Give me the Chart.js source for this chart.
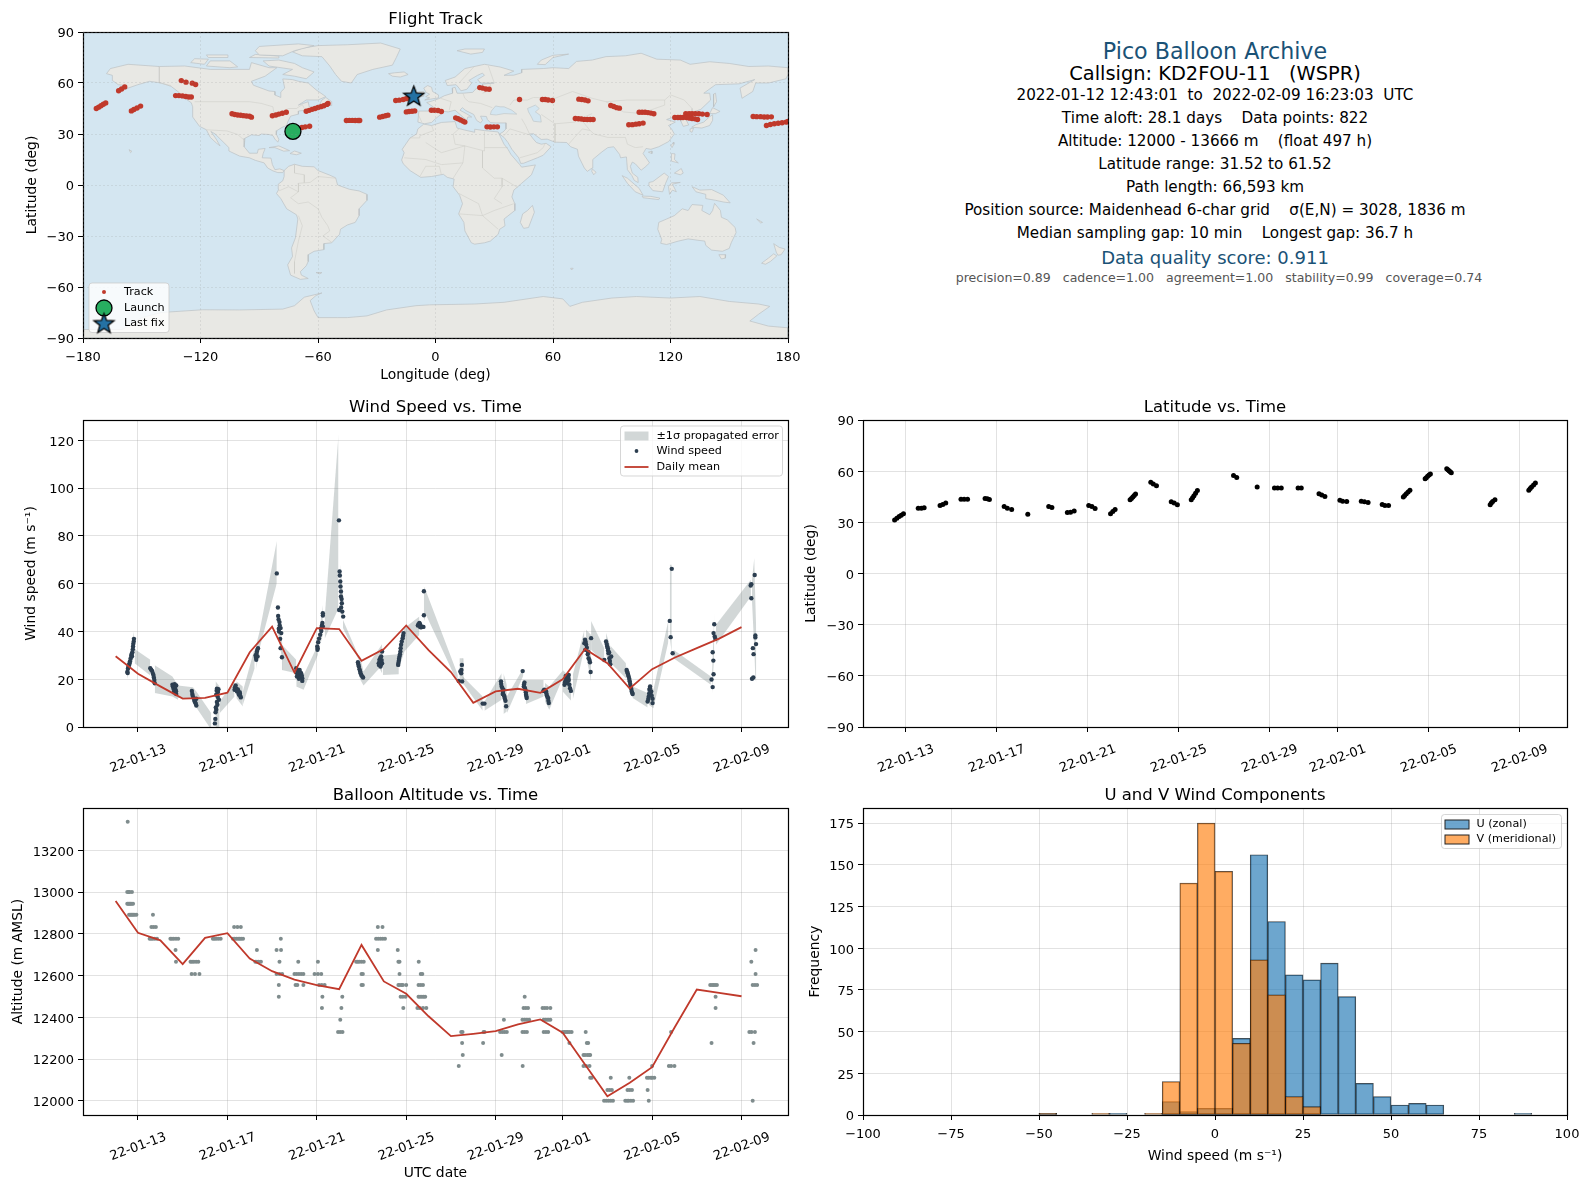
<!DOCTYPE html>
<html>
<head>
<meta charset="utf-8">
<title>Pico Balloon Archive</title>
<script src="https://cdn.jsdelivr.net/npm/chart.js@4"></script>
<style>
  html, body { margin: 0; padding: 0; background: #fff; }
  body { position: relative; width: 1590px; height: 1189px; overflow: hidden; font-family: "DejaVu Sans", sans-serif; }
  canvas { position: absolute; }
  .info { position: absolute; left: 815px; width: 800px; text-align: center; white-space: pre; line-height: 1; transform: translateY(-50%); }
</style>
</head>
<body>
<canvas id="mapChart"></canvas>
<canvas id="windChart"></canvas>
<canvas id="latChart"></canvas>
<canvas id="altChart"></canvas>
<canvas id="histChart"></canvas>
<script>
// Time axes run in "day of January 2022", so 22-02-01 is day 32
const timeTickDays = [13, 17, 21, 25, 29, 32, 36, 40];
const timeTickLabels = ['22-01-13', '22-01-17', '22-01-21', '22-01-25', '22-01-29', '22-02-01', '22-02-05', '22-02-09'];

// Daily means
const meanDays = [12, 13, 14, 15, 16, 17, 18, 19, 20, 21, 22, 23, 24, 25, 26, 27, 28, 29, 30, 31, 32, 33, 34, 35, 36, 37, 38, 39, 40];
const meanWind = [29.6, 22.3, 17, 11.9, 12.2, 14.4, 31.3, 42, 22.8, 41.4, 41, 27.7, 32.6, 42.5, 32.2, 23, 10.1, 14.9, 16, 14.3, 20, 32.7, 26.7, 16.1, 24.2, 29, 33, 37, 41.8];
const meanAlt = [12957, 12805, 12769, 12655, 12781, 12803, 12682, 12621, 12581, 12554, 12535, 12747, 12572, 12513, 12405, 12310, 12321, 12334, 12366, 12390, 12326, 12174, 12022, 12086, 12161, 12350, 12533, 12517, 12501];

// Wind speed samples, one inner list per flight-day cluster
const windDay = [
  [12.52, 12.55, 12.60, 12.64, 12.70, 12.75, 12.78, 12.81, 12.82, 12.54, 12.62, 12.73, 12.57, 12.67, 12.72, 12.77, 12.79],
  [13.55, 13.63, 13.69, 13.73, 13.75, 13.59, 13.66, 13.71],
  [14.54, 14.64, 14.71, 14.59, 14.68, 14.61, 14.71, 14.56, 14.66, 14.62, 14.70],
  [15.41, 15.43, 15.49, 15.61, 15.56, 15.61, 15.45, 15.52, 15.58],
  [16.53, 16.58, 16.50, 16.62, 16.55, 16.50, 16.47, 16.46, 16.44, 16.56, 16.52, 16.60, 16.57, 16.53, 16.48],
  [17.37, 17.32, 17.43, 17.55, 17.52, 17.60, 17.40, 17.34, 17.47, 17.50, 17.58, 17.45, 17.56],
  [18.37, 18.32, 18.26, 18.35, 18.29, 18.34, 18.30, 18.28],
  [19.21, 19.26, 19.27, 19.33, 19.38, 19.30, 19.41, 19.36, 19.38, 19.44, 19.29, 19.34, 19.31],
  [20.08, 20.15, 20.23, 20.30, 20.35, 20.11, 20.23, 20.35, 20.12, 20.18, 20.26, 20.20, 20.28, 20.33],
  [21.03, 21.02, 21.06, 21.15, 21.20, 21.27, 21.27, 21.27, 21.23, 21.04, 21.10, 21.18, 21.25],
  [21.99, 22.02, 22.03, 22.05, 22.06, 22.08, 22.08, 22.11, 22.12, 22.09, 22.00, 22.14, 22.18],
  [22.84, 22.88, 22.94, 22.99, 23.07, 22.86, 22.91, 22.96, 23.03],
  [23.92, 23.88, 23.80, 23.77, 23.88, 23.92, 23.85, 23.84, 23.90, 23.82, 23.78],
  [24.88, 24.84, 24.77, 24.74, 24.70, 24.67, 24.64, 24.86, 24.80, 24.75, 24.72, 24.68, 24.65],
  [25.59, 25.52, 25.67, 25.77, 25.79, 25.79, 25.55, 25.62, 25.70, 25.63],
  [27.35, 27.50, 27.46, 27.47, 27.49, 27.42],
  [28.42, 28.50],
  [29.24, 29.27, 29.35, 29.32, 29.39, 29.44, 29.47, 30.21, 29.25, 29.30, 29.33, 29.37, 29.41],
  [30.29, 30.26, 30.33, 30.36, 30.39, 30.27, 30.31, 30.35, 30.38],
  [31.18, 31.26, 31.29, 31.35, 31.38, 31.14, 31.16, 31.22, 31.27, 31.32, 31.36],
  [32.12, 32.18, 32.27, 32.22, 32.30, 32.37, 32.08, 32.27, 32.15, 32.20, 32.25, 32.10, 32.33, 32.14],
  [33.00, 33.05, 33.01, 33.27, 33.16, 33.22, 33.25, 33.12, 32.97, 33.03, 33.08, 33.14, 33.20],
  [33.94, 33.99, 34.05, 34.09, 34.17, 33.86, 34.13, 34.02, 33.97, 34.03, 34.08, 34.11],
  [34.86, 34.91, 34.95, 35.00, 35.04, 35.09, 35.13, 34.88, 34.93, 34.98, 35.02, 35.07, 35.11],
  [35.91, 35.88, 35.96, 35.85, 35.80, 36.02, 36.02, 35.90, 35.93, 35.87, 35.83, 35.98],
  [36.88, 36.79, 36.83, 36.92],
  [38.78, 38.75, 38.80, 38.83, 38.71, 38.74, 38.75, 38.66, 38.71],
  [40.44, 40.41, 40.44, 40.59, 40.62, 40.62, 40.65, 40.51, 40.54, 40.53, 40.47]
];
const windSpeed = [
  [23.0, 24.4, 26.0, 27.4, 29.9, 31.3, 33.7, 35.8, 36.9, 22.6, 26.6, 29.6, 25.2, 28.7, 30.6, 32.5, 34.8],
  [24.6, 23.5, 21.8, 19.7, 18.3, 24.0, 22.6, 20.7],
  [17.7, 17.9, 17.4, 16.0, 15.6, 14.5, 13.8, 16.9, 16.8, 15.1, 15.0],
  [15.1, 13.8, 12.1, 11.8, 10.4, 9.0, 13.0, 11.0, 9.8],
  [16.0, 14.6, 13.5, 11.4, 9.3, 7.2, 6.2, 3.4, 1.5, 15.4, 15.2, 15.8, 12.6, 10.5, 8.2],
  [17.4, 15.6, 14.9, 14.6, 13.5, 12.4, 16.0, 16.6, 15.7, 13.9, 13.0, 15.2, 14.0],
  [33.0, 31.6, 29.9, 29.5, 28.1, 32.3, 30.7, 29.0],
  [64.3, 50.0, 46.5, 43.9, 41.4, 41.1, 39.3, 36.9, 33.0, 29.2, 45.0, 42.5, 40.0],
  [24.6, 23.2, 21.1, 22.5, 19.3, 21.1, 23.9, 20.4, 22.4, 22.0, 22.8, 20.2, 20.9, 21.5],
  [32.3, 33.7, 35.5, 38.6, 40.2, 42.1, 46.7, 47.6, 42.5, 33.0, 37.0, 41.2, 43.5],
  [86.5, 65.1, 63.4, 60.9, 58.8, 56.7, 54.6, 53.6, 51.8, 50.0, 49.0, 48.3, 46.2],
  [27.1, 25.3, 23.2, 21.8, 20.7, 26.2, 24.2, 22.5, 21.2],
  [31.6, 29.5, 28.1, 26.7, 26.3, 26.7, 25.3, 28.9, 28.0, 27.2, 25.9],
  [39.3, 37.2, 34.4, 31.6, 29.5, 27.7, 26.0, 38.2, 35.8, 33.0, 30.5, 28.6, 26.8],
  [43.5, 42.5, 41.7, 41.9, 46.8, 56.8, 43.0, 43.0, 42.0, 41.8],
  [19.3, 19.1, 22.5, 23.9, 26.0, 23.2],
  [9.8, 9.8],
  [19.1, 17.0, 15.6, 13.8, 12.8, 11.0, 8.7, 23.4, 18.0, 16.3, 14.7, 13.3, 11.9],
  [18.6, 17.0, 15.6, 13.5, 12.1, 17.8, 16.3, 14.5, 12.8],
  [15.6, 14.9, 13.2, 12.1, 10.0, 15.1, 15.3, 15.2, 14.0, 12.6, 11.0],
  [19.1, 21.1, 21.8, 19.1, 17.7, 15.1, 17.7, 19.7, 20.2, 18.4, 20.6, 18.6, 16.2, 21.4],
  [36.5, 34.4, 32.3, 37.2, 28.8, 27.1, 23.0, 30.5, 35.1, 35.6, 33.2, 31.4, 28.0],
  [35.8, 33.7, 30.9, 28.8, 29.5, 28.1, 26.3, 33.0, 34.7, 32.0, 31.2, 27.6],
  [23.9, 22.5, 21.1, 19.1, 17.0, 14.9, 13.8, 23.2, 21.8, 20.1, 18.0, 15.9, 14.3],
  [17.0, 15.6, 14.9, 12.8, 10.7, 11.8, 10.0, 16.2, 14.2, 14.0, 11.7, 13.1],
  [66.2, 44.4, 37.6, 30.9],
  [43.0, 39.3, 37.9, 36.9, 31.3, 27.8, 22.1, 19.9, 16.7],
  [59.8, 59.2, 53.9, 63.6, 38.3, 37.5, 34.7, 33.0, 30.5, 20.7, 20.2]
];

// +/- 1 sigma band; null marks a break between data runs
const bandDay = [12.52, 12.82, null, 12.85, 13.55, null, 13.75, 14.54, 14.79, null, 14.79, 15.46, 15.61, 16.28, null, 16.47, 16.65, null, 16.65, 17.32, null, 17.40, 17.69, null, 17.69, 18.22, null, 18.29, 18.44, 19.21, null, 19.27, 19.45, null, 19.44, 20.08, null, 20.08, 20.41, 21.05, null, 21.15, 21.27, null, 21.35, 21.97, null, 22.05, 22.17, null, 22.17, 22.91, null, 22.91, 23.09, 23.80, 23.92, null, 23.95, 24.67, null, 24.67, 24.92, 25.59, null, 25.79, 25.89, 27.31, null, 27.38, 27.56, null, 27.53, 28.42, null, 28.50, 29.27, null, 29.35, 29.50, null, 29.50, 30.24, null, 30.36, 31.15, null, 31.21, 31.40, 32.00, null, 32.00, 32.38, null, 32.45, 32.97, null, 33.04, 33.27, null, 33.27, 33.86, null, 33.94, 34.16, null, 34.16, 34.83, null, 34.86, 35.13, null, 35.13, 35.80, null, 35.85, 36.06, 36.73, null, 36.79, 36.88, null, 36.96, 38.63, null, 38.68, 38.78, null, 38.86, 40.42, null, 40.47, 40.57, 40.62, 40.66];
const bandUpper = [25.3, 40.0, null, 32.6, 28.1, null, 25.8, 21.1, 17.4, null, 17.4, 16.6, 14.9, 5.8, null, 19.1, 17.0, null, 10.7, 19.1, null, 19.1, 17.0, null, 14.9, 33.0, null, 34.4, 40.0, 77.9, null, 48.3, 35.8, null, 34.4, 28.1, null, 26.0, 21.8, 34.4, null, 42.8, 51.1, null, 45.6, 122.3, null, 67.9, 55.3, null, 44.9, 28.8, null, 30.5, 23.2, 33.0, 34.7, null, 29.9, 30.5, null, 33.0, 41.4, 46.2, null, 58.8, 56.7, 21.8, null, 28.8, 28.8, null, 21.1, 12.8, null, 10.7, 22.5, null, 22.5, 17.7, null, 12.8, 24.6, null, 19.7, 19.7, null, 18.4, 17.0, 23.5, null, 23.9, 20.4, null, 21.8, 40.7, null, 40.7, 38.6, null, 44.4, 33.0, null, 39.3, 33.0, null, 33.7, 26.7, null, 26.0, 17.7, null, 17.0, 14.2, null, 17.7, 15.6, 44.8, null, 67.9, 67.9, null, 32.3, 21.1, null, 21.8, 47.6, null, 42.8, 61.6, null, 61.6, 70.6, 52.5, 40.0];
const bandLower = [20.2, 29.5, null, 26.7, 21.6, null, 14.2, 12.8, 11.4, null, 12.1, 12.1, 8.2, -1.2, null, -0.5, 0.2, null, 5.8, 12.8, null, 12.1, 8.6, null, 9.3, 24.6, null, 24.4, 33.0, 60.2, null, 38.6, 28.1, null, 23.9, 22.5, null, 17.0, 15.6, 30.2, null, 34.4, 38.6, null, 36.9, 49.7, null, 48.3, 45.3, null, 41.4, 27.4, null, 20.4, 17.4, 24.6, 22.5, null, 21.8, 22.1, null, 24.6, 31.6, 38.6, null, 44.2, 46.9, 18.4, null, 18.4, 17.9, null, 18.4, 6.8, null, 6.8, 11.4, null, 5.4, 6.5, null, 5.8, 21.6, null, 9.6, 12.8, null, 10.7, 7.2, 20.4, null, 14.9, 11.0, null, 11.4, 33.0, null, 30.2, 19.1, null, 32.3, 26.7, null, 30.2, 24.6, null, 26.7, 20.4, null, 20.4, 12.1, null, 12.1, 8.2, null, 9.3, 7.9, 35.8, null, 37.6, 30.9, null, 28.8, 17.7, null, 14.2, 30.2, null, 34.4, 54.6, null, 52.5, 33.0, 20.4, 18.5];

// Latitude samples
const latDay = [12.51, 12.61, 12.71, 12.80, 12.90, 13.55, 13.69, 13.81, 14.51, 14.63, 14.76, 15.43, 15.57, 15.72, 16.49, 16.59, 16.68, 17.33, 17.47, 17.66, 18.37, 19.29, 19.43, 20.11, 20.25, 20.41, 21.05, 21.19, 21.33, 22.01, 22.11, 22.21, 22.87, 22.93, 22.99, 23.05, 23.11, 23.78, 23.89, 24.03, 24.68, 24.81, 24.95, 25.56, 25.62, 25.68, 25.75, 25.83, 27.42, 27.56, 28.46, 29.22, 29.36, 29.52, 30.26, 30.40, 31.18, 31.30, 31.44, 32.10, 32.22, 32.40, 33.04, 33.18, 33.34, 33.96, 34.08, 34.24, 34.89, 34.95, 35.02, 35.10, 35.18, 35.85, 35.90, 35.96, 36.02, 36.08, 36.80, 36.85, 36.90, 36.95, 37.00, 38.71, 38.76, 38.82, 38.92, 40.41, 40.47, 40.53, 40.62, 40.70];
const latValue = [31.4, 32.4, 33.4, 34.2, 35.0, 38.3, 38.3, 38.5, 39.9, 40.5, 41.3, 43.6, 43.6, 43.6, 44.0, 43.8, 43.4, 39.3, 38.3, 37.5, 34.8, 39.3, 38.7, 35.7, 35.9, 36.7, 39.9, 39.3, 38.1, 35.0, 36.3, 37.5, 43.2, 44.0, 44.8, 45.7, 46.6, 53.5, 52.5, 51.5, 42.1, 41.3, 40.3, 43.2, 44.4, 45.6, 47.1, 48.6, 57.4, 56.3, 50.7, 50.1, 50.1, 50.1, 50.1, 50.1, 46.8, 46.0, 45.2, 43.0, 42.4, 42.2, 42.4, 42.1, 41.7, 40.5, 39.9, 39.9, 44.8, 45.8, 46.8, 47.8, 48.8, 55.5, 56.2, 57.0, 57.7, 58.4, 61.4, 60.8, 60.2, 59.6, 59.0, 40.3, 41.3, 42.2, 43.2, 48.8, 49.8, 50.7, 51.9, 53.1];

// Altitude samples: reported altitudes are quantised, so days are listed per level
const altLevels = [13337, 13001, 12944, 12891, 12833, 12776, 12723, 12666, 12608, 12555, 12498, 12445, 12388, 12330, 12277, 12220, 12167, 12110, 12052, 12000];
const altDays = [
  [12.54],
  [12.52, 12.58, 12.63, 12.73],
  [12.52, 12.56, 12.60, 12.64, 12.68, 12.73, 12.78],
  [12.60, 12.65, 12.70, 12.75, 12.80, 12.86, 12.93, 13.67],
  [13.60, 13.70, 13.80, 17.30, 17.45, 17.60, 23.73, 23.94],
  [13.52, 13.59, 13.66, 13.75, 13.85, 14.45, 14.52, 14.60, 14.70, 14.80, 16.35, 16.42, 16.50, 16.60, 16.70, 17.25, 17.32, 17.40, 17.48, 17.55, 17.62, 17.70, 19.39, 23.65, 23.75, 23.85, 23.95, 24.05],
  [14.68, 18.32, 19.20, 19.40, 23.73, 24.62, 40.63],
  [14.70, 15.35, 15.42, 15.50, 15.60, 15.70, 18.25, 18.32, 18.40, 18.50, 19.33, 20.17, 21.05, 22.76, 22.83, 22.90, 23.00, 23.10, 24.65, 24.70, 25.56, 40.44],
  [15.40, 15.55, 15.75, 19.20, 19.33, 19.45, 20.00, 20.10, 20.20, 20.30, 20.40, 20.90, 21.05, 21.20, 23.00, 23.06, 24.70, 25.65, 25.72, 40.63],
  [19.30, 20.05, 20.13, 20.40, 21.10, 21.22, 21.35, 23.00, 23.06, 24.65, 24.72, 24.80, 24.85, 25.00, 25.55, 25.65, 25.75, 38.60, 38.68, 38.75, 38.82, 38.90, 40.50, 40.60, 40.70],
  [19.30, 21.25, 22.14, 24.75, 24.85, 24.97, 25.55, 25.62, 25.70, 25.78, 25.85, 30.30, 38.84],
  [21.23, 22.10, 24.87, 25.50, 25.60, 25.75, 25.90, 30.25, 30.35, 30.45, 31.10, 31.20, 31.30, 31.45, 38.84],
  [22.05, 29.37, 30.20, 30.30, 30.40, 30.50, 31.15, 31.22, 31.30, 31.38, 31.45],
  [21.95, 22.05, 22.15, 27.46, 27.52, 28.46, 28.50, 29.20, 29.30, 29.40, 29.50, 30.20, 30.30, 30.40, 31.15, 31.25, 31.35, 32.00, 32.08, 32.15, 32.22, 32.30, 32.40, 33.03, 36.85, 40.35, 40.45, 40.60],
  [27.50, 28.44, 32.30, 33.08, 33.14, 38.66, 40.54],
  [27.53, 29.27, 32.93, 33.00, 33.10, 33.18, 33.23],
  [27.35, 30.21, 32.93, 33.05, 33.20, 36.00, 36.75, 36.85, 37.00],
  [33.23, 33.30, 34.15, 34.98, 35.77, 35.85, 35.95, 36.00, 36.10],
  [34.00, 34.10, 34.20, 34.90, 35.00, 35.10, 35.80],
  [33.85, 33.95, 34.05, 34.15, 34.25, 34.80, 34.88, 34.95, 35.05, 35.15, 35.85, 40.50]
];

// Histogram of wind components, 5 m/s bins
const binCenters = [-47.5, -42.5, -37.5, -32.5, -27.5, -22.5, -17.5, -12.5, -7.5, -2.5, 2.5, 7.5, 12.5, 17.5, 22.5, 27.5, 32.5, 37.5, 42.5, 47.5, 52.5, 57.5, 62.5, 67.5, 72.5, 77.5, 82.5, 87.5];
const uCounts = [1, 0, 0, 0, 1, 0, 0, 8, 2, 4, 4, 46, 156, 116, 84, 81, 91, 71, 19, 11, 6, 7, 6, 0, 0, 0, 0, 1];
const vCounts = [1, 0, 0, 1, 0, 0, 1, 20, 139, 175, 146, 43, 93, 72, 11, 5, 0, 0, 0, 0, 0, 0, 0, 0, 0, 0, 0, 0];

// Flight track on the map, read from the red dashes
const trackLon = [-173.2, -172, -170.8, -169.6, -168.4, -161.8, -160.3, -158.7, -155.3, -154, -152.4, -150.6, -129.8, -127.4, -124.2, -122.5, -132.7, -131, -129.2, -127.5, -126, -124.7, -103.9, -102.5, -101, -99.5, -98, -96.5, -95, -94, -83.3, -81.5, -80, -78.2, -76.2, -68.2, -66.5, -64.3, -66, -64.5, -63, -61.5, -60, -58.5, -57, -55.5, -54.9, -45.5, -44, -42.5, -41, -39.5, -38.7, -28.5, -27, -25.5, -24.3, -20.3, -18.5, -16.5, -15, -13, -11.5, -14.9, -13.5, -12, -10.6, -2.1, -0.5, 1.3, 3, 10.3, 11.5, 12.8, 14, 15, 26.3, 28, 29.8, 31.6, 22.6, 24, 25.7, 27.4, 42.9, 54.6, 56, 57.5, 59.7, 73.2, 74.7, 76.3, 77.9, 89.5, 91, 92.5, 93.9, 104, 105.5, 107, 108.5, 110, 111.5, 98.7, 100.5, 102.3, 104, 106, 71.4, 73, 74.5, 76, 77.5, 79, 80.5, 122.2, 123.8, 125, 126.4, 127.8, 129.5, 131, 132.7, 134.5, 136.3, 138.7, 128.1, 129.5, 131, 132.5, 133.8, 162.2, 164, 166, 167.8, 169.5, 171.5, 169, 171, 173, 175, 177, 179, 180];
const trackLat = [45, 45.8, 46.6, 47.5, 48.3, 55.4, 56.5, 57.7, 43.6, 44.4, 45.3, 46.4, 61.4, 60.5, 59.9, 59.1, 52.6, 52.6, 52.4, 52.1, 51.8, 51.8, 41.9, 41.5, 41.2, 41, 40.8, 40.6, 40.4, 39.9, 40.7, 41.2, 41.7, 42.2, 42.8, 33.8, 34.2, 34.6, 43.4, 43.9, 44.5, 45, 45.6, 46.1, 46.6, 47.4, 47.9, 37.9, 38, 38, 37.9, 37.9, 37.9, 39.9, 40.3, 40.7, 41.1, 49.7, 49.9, 50.3, 50.8, 51.7, 52.2, 43, 43.2, 43.4, 43.6, 44, 44, 43.8, 43.2, 39.5, 39, 38.3, 37.6, 37, 34.2, 34.1, 34.2, 34.2, 57.3, 57, 56.5, 56.3, 50.3, 50.3, 50.3, 50, 49.7, 50.5, 50.3, 50, 49.5, 46.8, 46.2, 45.5, 45.2, 42.8, 42.8, 42.8, 42.6, 42.3, 41.9, 35.4, 35.5, 35.8, 36, 36.4, 39.1, 39, 38.8, 38.6, 38.5, 38.5, 38.5, 39.7, 39.7, 39.7, 39.7, 41.9, 42, 42, 42, 41.9, 41.7, 41.5, 39.7, 39.4, 39.1, 38.9, 38.5, 40.3, 40.2, 40.2, 40, 40, 40.1, 35, 35.6, 36, 36.3, 36.6, 37, 37.4];
const launchPos = [-72.8, 31.52];
const lastFixPos = [-11.1, 52.6];

// Coarse coastlines as [lon, lat] rings
const northAmerica = [[-168,65.5],[-166,68.5],[-157,71],[-141,69.7],[-128,70],[-115,68],[-108,68],[-95,68],[-94,72],[-85,69],[-81,69],[-87,64],[-94,61],[-93,58.7],[-85,55.3],[-82,55],[-82,52.9],[-79,51.5],[-79,54.7],[-77,57],[-78,62.4],[-73,62],[-70,61],[-65,60],[-61,56],[-56,52],[-60,50],[-66,50],[-70,47],[-65,49],[-64.5,46],[-61,45.8],[-66,44],[-70,43.5],[-70,41.7],[-74,40.5],[-75.5,37],[-76,35],[-78.5,33.8],[-81,32],[-81.3,30],[-80,26.8],[-80.5,25.2],[-82,27],[-83,29],[-85,29.7],[-89,30],[-90,29.1],[-94,29.5],[-97.3,27.5],[-97.7,22.5],[-95,18.7],[-91,18.7],[-90.5,21],[-87,21.5],[-88,18.5],[-88.5,16],[-84,15.8],[-83.3,12],[-82,9],[-79.5,9.5],[-77.3,8.5],[-78,7.3],[-80.5,7.3],[-83,8.3],[-85.7,10],[-87.5,13],[-92,14.5],[-95,16],[-100,17],[-105.5,20],[-105.5,22],[-109,26],[-112.5,30],[-114.7,31.5],[-112,27],[-110,23],[-112,24.8],[-115,28],[-117,32.5],[-120.5,34.5],[-124,40],[-124,46],[-124.7,48.4],[-128,51],[-131,54.5],[-135,58],[-140,60],[-146,61],[-152,59],[-157,57],[-163,54.8],[-158,58.5],[-162,59],[-165,61.5],[-165,64.5],[-168,65.5]];
const arcticIslands = [
  [[-80,73.5],[-72,71.5],[-68,69],[-62,66.5],[-66,62.5],[-72,64],[-78,65],[-73,68],[-85,70],[-88,73],[-80,73.5]],
  [[-90,76.5],[-78,76],[-72,79],[-62,82],[-70,83],[-90,81.5],[-92,79],[-90,76.5]],
  [[-125,72],[-118,71],[-116,74],[-123,74.3],[-125,72]],
  [[-117,70],[-105,69],[-101,69.5],[-105,73],[-115,73],[-117,70]],
  [[-95,75],[-80,74.7],[-80,75.8],[-92,76.8],[-95,75]],
  [[-116,75],[-106,75],[-106,76.5],[-117,76.5],[-116,75]],
  [[11,79],[18,77],[24,78],[25,80],[15,80],[11,79]],
  [[52,71],[56,70.8],[60,75],[68,77],[60,76.3],[54,73.5],[52,71]]
];
const greenland = [[-73,78.3],[-68,76],[-58,75.5],[-54,70],[-51,65],[-48,61],[-43,60],[-40,65],[-32,68],[-22,70.5],[-20,75],[-18,80],[-28,83.5],[-45,82.5],[-60,82],[-68,80.5],[-73,78.3]];
const southAmerica = [[-77.3,8.5],[-75,11],[-72,12.2],[-68,11],[-62,10.7],[-60,8.5],[-54,5.8],[-51,4.2],[-50,0],[-44,-2.5],[-39,-3.5],[-35,-5.5],[-35,-9],[-39,-14],[-39,-18],[-41,-22],[-45,-23.5],[-48.5,-26],[-49,-29],[-53,-34],[-57,-34.5],[-57,-38],[-62,-39],[-65,-41],[-65,-45],[-66,-47.5],[-69,-51],[-68.5,-53],[-65,-55],[-69,-55.5],[-74,-53],[-75.5,-47],[-73,-42],[-73.5,-37],[-71.5,-31],[-70.3,-20],[-71,-17.5],[-76,-14],[-79,-8],[-81.2,-5],[-80,-2.5],[-80.3,0.5],[-78,2.5],[-77.3,5],[-77.3,8.5]];
const africa = [[-6,35.8],[-2,35],[3,36.8],[10,37.3],[11,33.5],[15,32.3],[20,31],[20,32.8],[25,32],[32,31.2],[32.5,29.9],[35,24],[37,21],[38.5,18],[43,12],[44,10.5],[51,11.8],[49,6],[44,1],[40,-3],[39,-7],[40.5,-11],[40.5,-15],[35,-20],[35.5,-24],[32.8,-26],[32,-29],[28,-33],[25,-34],[20,-34.8],[18.3,-34],[15,-27],[14.5,-22],[11.8,-17],[13.8,-11],[12.3,-6],[9,-1],[9.5,3.5],[6,4.5],[4,6.3],[-2,5],[-7.5,4.5],[-13,8.5],[-16.5,12.5],[-17.3,14.7],[-16,19],[-17,21],[-13,27.7],[-9.7,30],[-9,33],[-6,35.8]];
const eurasia = [[-9,37],[-5.6,36],[-2,36.8],[0,39],[3,41.8],[3.5,43.4],[6.5,43],[10,44],[12.5,41.5],[16,38],[16.5,40],[18.5,40],[16,41.8],[12.5,44],[13.7,45.5],[15.5,43.8],[19.5,41.5],[21,38],[23,36.5],[24,38],[23,40.5],[26,40.3],[26.5,38.5],[28,36.7],[31,36.5],[36,36.5],[36,33],[34.5,31.2],[32.6,30],[35,28],[37,25],[39,21],[42.5,16],[43.5,12.7],[45,12.8],[52,16],[55,17.5],[59,22.5],[56.5,24.5],[54,24],[51.5,25],[50,27],[48,30],[50,30.2],[54,26.8],[57,27],[61,25.2],[67,25],[69,22.5],[72.5,21],[73,17],[76,10],[77.5,8],[80,10],[80.3,15],[85,19.5],[88,22],[91,22.5],[94,18],[94.5,16],[97.5,16.5],[98,9],[100.3,5.5],[101.5,2.7],[103.5,1.4],[103.3,4.5],[100.5,7],[99.5,11],[100.5,13.5],[102,12.5],[105,8.7],[107,10.5],[109.3,13],[106,18.5],[107.5,21.5],[110,21],[114,22.5],[119,25.5],[122,30],[120.5,33],[119,35],[122.5,37],[118,38.5],[121.5,40],[125,39.7],[125.3,37.5],[126.5,34.5],[129.3,35.3],[127.5,39.5],[130.5,42.5],[135.5,44.5],[140.5,50],[140,54],[137,54],[143,59],[155,59.5],[163,62],[155.5,57],[156.5,51],[162,55],[163.5,60],[170,60],[179,62.5],[180,65],[180,69],[170,70],[160,69.7],[150,71.5],[140,72.5],[130,71],[125,73.5],[113,74],[105,77.5],[97,76],[87,75.5],[80,73.5],[72,72.7],[68,68.5],[60,69],[55,68.5],[44,68],[44,66],[40,64.6],[35,64.5],[40,67],[33,69.4],[25,71],[15,68.5],[10,63.5],[5,61.5],[6,58.5],[10.5,59],[12,57],[13,55.4],[16,56.3],[18.5,60],[17,61.5],[21.5,64.5],[24,65.8],[25,64.5],[21.5,62],[23,60],[30,60],[24,59.3],[24,57.3],[21,57],[19,54.5],[14,54],[11,54],[10,57.5],[8.5,57],[8.7,54],[4.5,52.5],[1.7,50.8],[-1.5,49.5],[-4.5,48.5],[-1.2,46],[-1.7,43.5],[-8.5,43.5],[-9,37]];
const australia = [[114,-22],[113.5,-26],[115.5,-32],[115,-34.3],[118,-35],[124,-33],[129,-31.7],[134,-32.5],[137.5,-33],[138,-35.5],[141,-38.3],[146.5,-39],[150,-37.3],[151,-34],[153.5,-28],[153,-25],[149,-20.5],[146,-19],[145.5,-15],[142.5,-10.8],[141.5,-15],[140,-17.5],[136,-15],[136.5,-12],[131,-11.5],[129,-15],[126,-14],[122,-18],[118,-20],[114,-22]];
const antarctica = [[-180,-85],[-160,-85],[-150,-78],[-140,-75],[-119,-73.4],[-100,-73.5],[-78,-73],[-72,-71],[-67,-66],[-58,-63.5],[-61,-65],[-64,-68],[-62,-74],[-60,-78],[-50,-78],[-45,-78],[-35,-77],[-25,-73.5],[-10,-71],[-3,-70.5],[20,-70],[35,-69],[55,-65.6],[65,-67],[68.6,-71.4],[75,-69],[90,-66.5],[102.6,-65.6],[120,-66.5],[135,-65.6],[150,-68.5],[165,-70],[170.7,-71.4],[165,-76],[160.5,-80],[170,-83],[180,-84],[180,-90],[-180,-90],[-180,-85]];
const smallLands = [
  [[-59,47.7],[-53,46.7],[-53,49],[-56,51.5],[-58,50],[-59,47.7]],
  [[-24,65.5],[-22,64],[-18,63.5],[-14,65],[-16,66.5],[-21,66],[-24,65.5]],
  [[-85,22],[-80,23],[-74.5,20.2],[-77.5,19.9],[-82,22],[-85,22]],
  [[-74.3,18.5],[-72,20],[-68.5,18.7],[-71,17.8],[-74.3,18.5]],
  [[-156.5,20.8],[-155,19.8],[-155.7,19],[-156.5,20.8]],
  [[-61,-51.5],[-58,-51.5],[-59,-52.3],[-61,-51.5]],
  [[49.5,-12],[50.5,-16],[47.5,-25],[45,-25.5],[43.3,-22],[44.5,-17],[47,-15],[49.5,-12]],
  [[-5.5,50],[1.5,51.2],[1.5,53],[-1.5,55],[-2,57.5],[-4,58.5],[-6,57],[-4.8,54.5],[-3,53.4],[-5,52],[-3,51.3],[-5.5,50]],
  [[-10,52],[-6,52.2],[-6,55],[-8.5,55],[-10,54],[-10,52]],
  [[130.8,34],[136,33.5],[140,35],[141.5,38],[141.5,41.3],[139.8,40],[137,37],[133,35.5],[130.8,34]],
  [[140,42],[141.5,45.5],[145.3,43.3],[143,42],[140,42]],
  [[130,33],[131.8,33.5],[131,31],[130,31.5],[130,33]],
  [[142,46],[143.5,49],[143,54],[142,53.5],[142,49],[142,46]],
  [[120.2,23],[121.5,25.2],[121.7,24],[120.8,22],[120.2,23]],
  [[108.7,19.3],[110.5,20],[110.5,18.5],[108.7,19.3]],
  [[80,9.5],[82,7.5],[80.8,6],[79.8,8],[80,9.5]],
  [[95.3,5.5],[98,4],[104,-2],[106,-6],[102,-4],[98,1],[95.3,5.5]],
  [[105.5,-6.5],[110,-6.7],[114.5,-7.7],[114,-8.6],[106,-7.5],[105.5,-6.5]],
  [[109,1.5],[111,2],[116.8,7],[119,5],[117.5,1],[116,-4],[111,-3.3],[109,-0.5],[109,1.5]],
  [[119.5,-5.5],[119,-1],[120.5,1.3],[125,1.5],[121,0.5],[123,-4],[121,-3],[119.5,-5.5]],
  [[131,-1],[135,-3],[141,-2.7],[147,-6],[150.5,-10.5],[147,-10],[143,-9],[138,-8],[138,-5.5],[133,-4],[131,-1]],
  [[120.5,18.5],[122.3,18.3],[122,15],[124,13],[120.5,14],[120.5,18.5]],
  [[122,7],[125.5,9.7],[126.5,7],[125,6],[122,7]],
  [[144.7,-41],[148.2,-41],[148,-43],[146,-43.5],[144.7,-41]],
  [[172.7,-34.5],[175.5,-36.7],[178.5,-37.7],[176.5,-41],[174.8,-41.3],[174,-39.5],[172.7,-34.5]],
  [[172.7,-40.5],[174.3,-41.7],[171,-45],[168.5,-46.6],[166.5,-46],[170,-43],[172.7,-40.5]],
  [[164,-20],[167,-22],[166,-22.3],[164,-20]],
  [[69,-49],[70.3,-49],[69.5,-50],[69,-49]]
];
const innerSeas = [
  [[28,41.5],[31,41.2],[35,42],[41.5,41.7],[39,44],[37,45],[35,46],[33,46],[30.7,46.5],[28.5,43.5],[28,41.5]],
  [[47,45],[51,47],[53,45],[51,43],[53.5,41],[54,37],[50,37.5],[49,40],[47.5,43],[47,45]]
];
const borders = [
  [[-123,49],[-95,49],[-89,48],[-83,46],[-82.5,42],[-79,43],[-75,45],[-71,45],[-68,47.3],[-67,45]],
  [[-141,69.7],[-141,60],[-135,58.5]],
  [[-117,32.5],[-106.5,31.8],[-101,29.7],[-97.3,26]],
  [[-51,4],[-60,5],[-64,1.5],[-70,1],[-70,-4],[-74,-7.5],[-70,-11],[-65,-10],[-60,-14],[-58,-19],[-55,-24],[-54,-27],[-57.5,-30],[-53,-33.7]],
  [[-70,-18],[-68,-24],[-70,-33],[-72,-45],[-72,-52]],
  [[-80,-3.5],[-75,-1],[-70,-4]],
  [[-72,12],[-72,7],[-67,6],[-67,1.5]],
  [[-13,27.7],[-8,27.7],[-8,29],[-1,32],[-2,35]],
  [[12,33],[9,30],[10,24],[15,23],[25,20],[25,31.5]],
  [[25,22],[37,22]],
  [[-5,25],[3,19],[15,23]],
  [[15,23],[14,13],[9,4]],
  [[24,20],[24,10],[30,4],[34,4],[42,-1.5]],
  [[12,-5],[22,-11],[24,-18],[32,-26]],
  [[12,-17],[24,-18],[30,-15],[40,-11]],
  [[-16,16],[-5,15],[3,12],[14,13]],
  [[-8,5],[-5,11],[2,11],[3,6]],
  [[34,4],[34,-1],[30,-8],[34,-11]],
  [[-1.7,43.4],[3,42.5]],
  [[2.5,51],[8,49],[7,44]],
  [[-9,42],[-7,37]],
  [[14,54],[15,51],[17,49],[23,48],[29,45.5]],
  [[24,54],[28,56],[28,60]],
  [[30,60],[27,70]],
  [[20,70],[12,60]],
  [[38,47],[40,50],[47,50],[50,51.5],[61,51],[70,55],[80,51],[87,49],[98,50],[107,50],[117,50],[120,53],[127,50],[131,45],[131,42.8]],
  [[87,49],[96,43],[105,42],[112,45],[117,47],[117,50]],
  [[80,42],[74,39],[79,32],[81,30],[88,28],[97,28],[98,24],[102,22],[106,22.5]],
  [[54,41.5],[61,36],[71,37],[74,39]],
  [[44,39],[46,35],[48,30]],
  [[61,36],[61,25]],
  [[68,24],[71,28],[75,33],[79,32]],
  [[35,29],[38,33],[48,29.5]],
  [[43,16],[52,19],[55,22],[56,24.5]]
];

const lonTicks = [-180, -120, -60, 0, 60, 120, 180];
const latTicks = [-90, -60, -30, 0, 30, 60, 90];
const windTicks = [0, 20, 40, 60, 80, 100, 120];
const altTicks = [12000, 12200, 12400, 12600, 12800, 13000, 13200];
const histXTicks = [-100, -75, -50, -25, 0, 25, 50, 75, 100];
const histYTicks = [0, 25, 50, 75, 100, 125, 150, 175];

const infoLines = [
  ['Pico Balloon Archive', 51, 22.2, '#1a5276', 0],
  ['Callsign: KD2FOU-11   (WSPR)', 74.3, 19.4, '#000', 0],
  ['2022-01-12 12:43:01  to  2022-02-09 16:23:03  UTC', 96.3, 15.2, '#000', 0],
  ['Time aloft: 28.1 days    Data points: 822', 119.3, 15.2, '#000', 0],
  ['Altitude: 12000 - 13666 m    (float 497 h)', 142.3, 15.2, '#000', 0],
  ['Latitude range: 31.52 to 61.52', 165.3, 15.2, '#000', 0],
  ['Path length: 66,593 km', 188.3, 15.2, '#000', 0],
  ['Position source: Maidenhead 6-char grid    σ(E,N) = 3028, 1836 m', 211.3, 15.2, '#000', 0],
  ['Median sampling gap: 10 min    Longest gap: 36.7 h', 234.3, 15.2, '#000', 0],
  ['Data quality score: 0.911', 257.7, 18, '#1a5276', 0],
  ['precision=0.89   cadence=1.00   agreement=1.00   stability=0.99   coverage=0.74', 278, 12.55, '#555', 4]
];

const FONT = '"DejaVu Sans"';
const TICK_PX = 13;
const LABEL_PX = 13.9;
const GRID = 'rgba(150,150,150,0.28)';
const RED = '#c0392b';
const NAVY = '#2c3e50';
const SLATE = '#7f8c8d';

Chart.defaults.font.family = FONT;
Chart.defaults.color = '#000';
Chart.defaults.animation = false;

const xy = (xs, ys) => xs.map((x, i) => ({ x, y: ys[i] }));
const ring = pts => pts.map(p => ({ x: p[0], y: p[1] }));
const minusSign = v => String(v).replace('-', '\u2212');

infoLines.forEach(([text, y, size, color, dx]) => {
  const d = document.createElement('div');
  d.className = 'info';
  d.textContent = text;
  d.style.top = y + 'px';
  d.style.marginLeft = dx + 'px';
  d.style.fontSize = size + 'px';
  d.style.color = color;
  document.body.appendChild(d);
});

// 5 point star sprite, the built in 'star' point style is only an asterisk
function starSprite(r, fill) {
  const c = document.createElement('canvas');
  c.width = c.height = Math.ceil(r * 2 + 4);
  const g = c.getContext('2d');
  g.translate(c.width / 2, c.height / 2 + 1);
  g.beginPath();
  for (let i = 0; i < 10; i++) {
    const rad = i % 2 ? r * 0.42 : r;
    const a = -Math.PI / 2 + i * Math.PI / 5;
    g.lineTo(rad * Math.cos(a), rad * Math.sin(a));
  }
  g.closePath();
  g.fillStyle = fill;
  g.fill();
  g.lineWidth = 1.3;
  g.strokeStyle = '#000';
  g.stroke();
  return c;
}
const star = starSprite(10.5, '#2471a3');

// Closed box around the plot, the scales only give left and bottom
const framePlugin = {
  id: 'frame',
  afterDatasetsDraw(chart) {
    const { ctx, chartArea: a } = chart;
    ctx.save();
    ctx.strokeStyle = '#000';
    ctx.lineWidth = 1.2;
    ctx.strokeRect(a.left + 0.5, a.top + 0.5, a.right - a.left, a.bottom - a.top);
    ctx.restore();
  }
};

// Legend with a matplotlib look: translucent rounded box over the data
function legendPlugin(cfg) {
  return {
    id: 'boxLegend',
    afterDraw(chart) {
      const { ctx, chartArea: a } = chart;
      const x0 = cfg.fromRight != null ? a.right - cfg.fromRight - cfg.w : a.left + cfg.fromLeft;
      const y0 = cfg.fromBottom != null ? a.bottom - cfg.fromBottom - cfg.h : a.top + cfg.fromTop;
      ctx.save();
      ctx.beginPath();
      ctx.roundRect(x0, y0, cfg.w, cfg.h, 3);
      ctx.fillStyle = 'rgba(255,255,255,0.8)';
      ctx.fill();
      ctx.strokeStyle = 'rgba(204,204,204,0.8)';
      ctx.lineWidth = 1;
      ctx.stroke();
      ctx.font = '11.2px ' + FONT;
      ctx.textBaseline = 'middle';
      cfg.items.forEach((it, i) => {
        const cy = y0 + cfg.rows[i];
        const mx = x0 + cfg.markX;
        if (it.kind === 'patch') {
          ctx.fillStyle = it.fill;
          ctx.fillRect(mx - 12, cy - 4.5, 24, 9);
          if (it.edge) {
            ctx.strokeStyle = it.edge;
            ctx.lineWidth = 1;
            ctx.strokeRect(mx - 12, cy - 4.5, 24, 9);
          }
        } else if (it.kind === 'line') {
          ctx.strokeStyle = it.fill;
          ctx.lineWidth = 1.8;
          ctx.beginPath();
          ctx.moveTo(mx - 12, cy);
          ctx.lineTo(mx + 12, cy);
          ctx.stroke();
        } else if (it.kind === 'star') {
          ctx.drawImage(star, mx - star.width / 2, cy - star.height / 2);
        } else {
          ctx.beginPath();
          ctx.arc(mx, cy, it.r, 0, Math.PI * 2);
          ctx.fillStyle = it.fill;
          ctx.fill();
          if (it.edge) {
            ctx.strokeStyle = it.edge;
            ctx.lineWidth = 1.3;
            ctx.stroke();
          }
        }
        ctx.fillStyle = '#000';
        ctx.fillText(it.label, x0 + cfg.textX, cy);
      });
      ctx.restore();
    }
  };
}

const oceanPlugin = {
  id: 'ocean',
  beforeDatasetsDraw(chart) {
    const { ctx, chartArea: a } = chart;
    ctx.save();
    ctx.fillStyle = '#d4e6f1';
    ctx.fillRect(a.left, a.top, a.right - a.left, a.bottom - a.top);
    ctx.restore();
  }
};

function axis(opts) {
  const ticks = opts.ticks;
  const scale = {
    type: 'linear',
    min: opts.min,
    max: opts.max,
    offset: false,
    afterBuildTicks: ax => { ax.ticks = ticks.map(value => ({ value })); },
    afterFit: ax => {
      if (ax.axis === 'x') ax.height = opts.box; else ax.width = opts.box;
    },
    title: { display: !!opts.title, text: opts.title, font: { size: LABEL_PX, lineHeight: 1.2 }, padding: 0 },
    border: { display: false, dash: opts.dash || [] },
    grid: { color: opts.gridColor || GRID, lineWidth: 1, tickLength: 5, tickColor: '#000', tickWidth: 1, offset: false, z: opts.gridZ || 0 },
    ticks: {
      autoSkip: false,
      font: { size: TICK_PX },
      padding: opts.pad == null ? 4 : opts.pad,
      maxRotation: opts.rotate || 0,
      minRotation: opts.rotate || 0,
      labelOffset: opts.labelOffset || 0,
      callback: opts.format || minusSign
    }
  };
  return scale;
}

// y axis labels sit a touch below the tick in the original
const yAxis = opts => axis({ labelOffset: 2, ...opts });
const timeLabel = v => timeTickLabels[timeTickDays.indexOf(v)];

function panel(id, rect, yBox, xBox, title, type, datasets, scales, plugins) {
  const canvas = document.getElementById(id);
  const w = yBox + (rect.r - rect.l) + 24;
  const h = 30 + (rect.b - rect.t) + xBox + 2;
  canvas.width = w;
  canvas.height = h;
  canvas.style.width = w + 'px';
  canvas.style.height = h + 'px';
  canvas.style.left = (rect.l - yBox) + 'px';
  canvas.style.top = (rect.t - 30) + 'px';
  return new Chart(canvas, {
    type,
    data: { datasets },
    options: {
      responsive: false,
      devicePixelRatio: 1,
      animation: false,
      layout: { padding: { right: 24, bottom: 2 } },
      plugins: {
        legend: { display: false },
        tooltip: { enabled: false },
        title: {
          display: true,
          text: title,
          fullSize: false,
          font: { size: 16.5, weight: 'normal', lineHeight: 1.2 },
          padding: { top: 7.5, bottom: 2.7 }
        }
      },
      scales
    },
    plugins: [framePlugin, ...plugins]
  });
}

function timeAxis(min, max, box, title) {
  return axis({ min, max, ticks: timeTickDays, box, title, rotate: 20, labelOffset: 28, pad: 9.5, format: timeLabel });
}

// Flight track panel
const landRings = [northAmerica, ...arcticIslands, greenland, southAmerica, africa, eurasia, australia, antarctica, ...smallLands];
const borderPoints = borders.flatMap(b => [...ring(b), { x: null, y: null }]);
const mapDatasets = [
  { label: 'Last fix', data: [{ x: lastFixPos[0], y: lastFixPos[1] }], pointStyle: star, pointRadius: 10 },
  { label: 'Launch', data: [{ x: launchPos[0], y: launchPos[1] }], pointRadius: 8, pointBackgroundColor: '#27ae60', pointBorderColor: '#000', pointBorderWidth: 1.3 },
  { label: 'Track', data: xy(trackLon, trackLat), pointRadius: 2.7, pointBackgroundColor: RED, pointBorderWidth: 0 },
  { label: 'Borders', data: borderPoints, showLine: true, pointRadius: 0, borderColor: 'rgba(205,205,200,0.9)', borderWidth: 0.6 },
  ...innerSeas.map(s => ({ label: 'Sea', data: ring(s), showLine: true, fill: 'shape', pointRadius: 0, backgroundColor: '#d4e6f1', borderColor: '#bcc2c4', borderWidth: 0.6 })),
  ...landRings.map(r => ({ label: 'Land', data: ring(r), showLine: true, fill: 'shape', pointRadius: 0, backgroundColor: '#e8e8e4', borderColor: '#bcc2c4', borderWidth: 0.7 }))
];
const mapGrid = 'rgba(150,150,150,0.2)';
panel('mapChart', { l: 83, t: 32, r: 788, b: 338 }, 59, 46, 'Flight Track', 'scatter', mapDatasets, {
  x: axis({ min: -180, max: 180, ticks: lonTicks, box: 46, title: 'Longitude (deg)', dash: [2, 2], gridZ: 1, gridColor: mapGrid, pad: 7 }),
  y: yAxis({ min: -90, max: 90, ticks: latTicks, box: 59, title: 'Latitude (deg)', dash: [2, 2], gridZ: 1, gridColor: mapGrid })
}, [oceanPlugin, legendPlugin({
  fromLeft: 6, fromBottom: 5.5, w: 80, h: 49.5, markX: 15, textX: 35, rows: [9, 25, 40],
  items: [
    { kind: 'dot', fill: RED, r: 2, label: 'Track' },
    { kind: 'dot', fill: '#27ae60', edge: '#000', r: 8, label: 'Launch' },
    { kind: 'star', label: 'Last fix' }
  ]
})]);

// Wind speed panel, dataset 0 is painted last
const windPoints = windDay.flatMap((c, i) => xy(c, windSpeed[i]));
panel('windChart', { l: 83, t: 420, r: 788, b: 727 }, 60, 60, 'Wind Speed vs. Time', 'scatter', [
  { label: 'Daily mean', data: xy(meanDays, meanWind), showLine: true, pointRadius: 0, borderColor: RED, borderWidth: 1.8 },
  { label: 'Wind speed', data: windPoints, pointRadius: 2.2, pointBackgroundColor: NAVY, pointBorderWidth: 0 },
  { label: '\u00b11\u03c3 propagated error', data: xy(bandDay, bandUpper), showLine: true, fill: '+1', pointRadius: 0, borderWidth: 0, backgroundColor: 'rgba(127,140,141,0.35)' },
  { label: 'lower', data: xy(bandDay, bandLower), showLine: true, pointRadius: 0, borderWidth: 0 }
], {
  x: timeAxis(10.54, 42.08, 60),
  y: yAxis({ min: 0, max: 128.5, ticks: windTicks, box: 60, title: 'Wind speed (m s\u207b\u00b9)' })
}, [legendPlugin({
  fromRight: 5.5, fromTop: 6, w: 162, h: 50, markX: 16, textX: 36, rows: [10, 25, 41],
  items: [
    { kind: 'patch', fill: 'rgba(127,140,141,0.35)', label: '\u00b11\u03c3 propagated error' },
    { kind: 'dot', fill: NAVY, r: 1.9, label: 'Wind speed' },
    { kind: 'line', fill: RED, label: 'Daily mean' }
  ]
})]);

// Latitude panel
panel('latChart', { l: 863, t: 420, r: 1567, b: 727 }, 60, 60, 'Latitude vs. Time', 'scatter', [
  { label: 'Latitude', data: xy(latDay, latValue), pointRadius: 2.5, pointBackgroundColor: '#000', pointBorderWidth: 0 }
], {
  x: timeAxis(11.12, 42.09, 60),
  y: yAxis({ min: -90, max: 90, ticks: latTicks, box: 60, title: 'Latitude (deg)' })
}, []);

// Altitude panel
const altPoints = altLevels.flatMap((level, i) => altDays[i].map(x => ({ x, y: level })));
panel('altChart', { l: 83, t: 808, r: 788, b: 1115 }, 73, 67, 'Balloon Altitude vs. Time', 'scatter', [
  { label: 'Daily mean', data: xy(meanDays, meanAlt), showLine: true, pointRadius: 0, borderColor: RED, borderWidth: 1.8 },
  { label: 'Altitude', data: altPoints, pointRadius: 2, pointBackgroundColor: SLATE, pointBorderWidth: 0 }
], {
  x: timeAxis(10.54, 42.08, 67, 'UTC date'),
  y: yAxis({ min: 11932, max: 13403, ticks: altTicks, box: 73, title: 'Altitude (m AMSL)' })
}, []);

// Wind component histogram, V is painted over U
const bars = counts => binCenters.map((x, i) => ({ x, y: counts[i] })).filter(b => b.y > 0);
const barStyle = { grouped: false, categoryPercentage: 1, barPercentage: 1, borderWidth: 0.8, borderColor: 'rgba(0,0,0,0.72)', borderSkipped: false };
panel('histChart', { l: 863, t: 808, r: 1567, b: 1115 }, 56, 50, 'U and V Wind Components', 'bar', [
  { label: 'V (meridional)', data: bars(vCounts), backgroundColor: 'rgba(255,127,14,0.65)', ...barStyle },
  { label: 'U (zonal)', data: bars(uCounts), backgroundColor: 'rgba(31,119,180,0.65)', ...barStyle }
], {
  x: axis({ min: -100, max: 100, ticks: histXTicks, box: 50, title: 'Wind speed (m s\u207b\u00b9)', pad: 7 }),
  y: yAxis({ min: 0, max: 184, ticks: histYTicks, box: 56, title: 'Frequency' })
}, [legendPlugin({
  fromRight: 5.5, fromTop: 6.5, w: 120, h: 34, markX: 15.5, textX: 35, rows: [10, 25],
  items: [
    { kind: 'patch', fill: 'rgba(31,119,180,0.65)', edge: '#222', label: 'U (zonal)' },
    { kind: 'patch', fill: 'rgba(255,127,14,0.65)', edge: '#222', label: 'V (meridional)' }
  ]
})]);
</script>
</body>
</html>
